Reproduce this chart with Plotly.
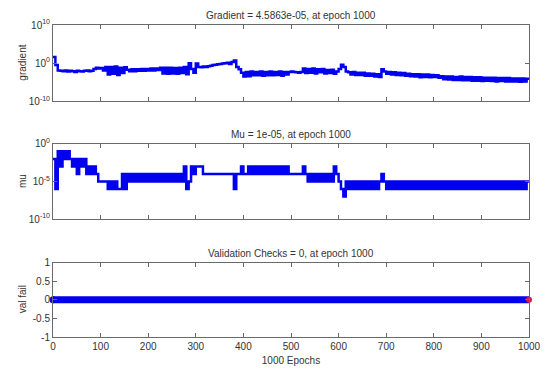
import plotly.graph_objects as go

# ---- data ----
epochs = list(range(0, 1001, 5))

# log10(gradient), one value every 5 epochs (rows of 50 epochs)
gradient_log10 = [
    1.6, -0.5, -1.9, -2.0, -2.1, -1.9, -2.2, -2.0, -2.1, -2.3,
    -2.0, -2.1, -2.2, -2.0, -1.9, -2.1, -2.0, -1.5, -1.2, -1.4,
    -1.3, -1.9, -1.0, -3.0, -1.0, -2.8, -0.9, -3.1, -1.2, -2.6,
    -1.1, -1.7, -2.1, -1.6, -2.1, -1.6, -2.0, -1.5, -2.0, -1.5,
    -1.9, -1.4, -1.9, -1.4, -1.8, -1.2, -2.7, -1.2, -2.8, -1.2,
    -2.7, -1.3, -2.8, -1.2, -2.6, -1.0, -2.9, 0.0, -1.5, -2.5,
    -0.1, -1.0, -1.1, -0.9, -1.0, -0.8, -0.7, -0.5, -0.4, -0.3,
    -0.2, -0.1, 0.0, 0.1, -0.2, 0.3, 0.7, -1.0, -1.6, -2.5,
    -3.5, -2.3, -3.4, -2.2, -3.2, -2.3, -3.2, -2.2, -3.3, -2.3,
    -3.2, -2.2, -3.2, -2.3, -3.1, -2.2, -3.3, -2.3, -3.0, -2.3,
    -2.2, -2.3, -2.4, -2.5, -2.3, -1.4, -2.6, -1.5, -2.5, -1.4,
    -2.7, -1.6, -2.4, -1.5, -2.7, -1.8, -2.6, -1.7, -2.8, -2.2,
    -1.5, -0.4, -1.0, -2.2, -2.4, -3.0, -2.3, -3.1, -2.5, -3.1,
    -2.5, -3.3, -2.7, -3.3, -2.8, -3.5, -2.9, -3.6, -1.6, -2.2,
    -2.8, -2.3, -3.0, -2.4, -3.1, -2.5, -3.2, -2.6, -3.3, -2.8,
    -3.4, -2.9, -3.5, -2.9, -3.7, -3.0, -3.6, -3.0, -3.7, -3.1,
    -3.6, -3.2, -3.8, -3.4, -4.2, -3.5, -4.3, -3.5, -4.4, -3.6,
    -4.4, -3.5, -4.5, -3.6, -4.5, -3.6, -4.6, -3.7, -4.6, -3.7,
    -4.7, -3.8, -4.6, -3.8, -4.7, -3.8, -4.8, -3.9, -4.7, -3.9,
    -4.8, -3.9, -4.8, -4.0, -4.8, -4.0, -4.9, -4.0, -4.8, -4.1,
    -4.34,
]

# log10(mu), one value every 5 epochs (rows of 50 epochs)
mu_log10 = [
    -2, -6, -1, -3, -1, -2, -1, -2, -3, -2,
    -4, -2, -3, -2, -4, -3, -4, -3, -4, -5,
    -5, -5, -5, -6, -5, -6, -5, -6, -6, -4,
    -6, -4, -5, -4, -5, -4, -5, -4, -5, -4,
    -5, -4, -5, -4, -5, -4, -5, -4, -5, -4,
    -5, -4, -5, -4, -5, -3, -6, -5, -3, -4,
    -3, -3, -3, -4, -4, -4, -4, -4, -4, -4,
    -4, -4, -4, -4, -4, -4, -6, -4, -4, -3,
    -4, -4, -3, -4, -3, -4, -3, -4, -3, -4,
    -3, -4, -3, -4, -3, -4, -3, -4, -3, -4,
    -4, -4, -4, -4, -4, -3, -4, -5, -4, -5,
    -4, -5, -4, -5, -4, -5, -4, -5, -3, -4,
    -5, -6, -7, -5, -6, -5, -6, -5, -6, -5,
    -6, -5, -6, -5, -6, -5, -6, -5, -4, -5,
    -6, -5, -6, -5, -6, -5, -6, -5, -6, -5,
    -6, -5, -6, -5, -6, -5, -6, -5, -6, -5,
    -6, -5, -6, -5, -6, -5, -6, -5, -6, -5,
    -6, -5, -6, -5, -6, -5, -6, -5, -6, -5,
    -6, -5, -6, -5, -6, -5, -6, -5, -6, -5,
    -6, -5, -6, -5, -6, -5, -6, -5, -6, -5,
    -5,
]

val_fail = [0] * len(epochs)
final_epoch = [1000]
final_val = [0]

titles = [
    "Gradient = 4.5863e-05, at epoch 1000",
    "Mu = 1e-05, at epoch 1000",
    "Validation Checks = 0, at epoch 1000",
]
ylabels = ["gradient", "mu", "val fail"]
x_ticks = [0, 100, 200, 300, 400, 500, 600, 700, 800, 900, 1000]

# ---- styling ----
W, H = 553, 376
ML, MR, MT, MB = 53, 16, 25, 28
PH = H - MT - MB
BLUE = "#0000ee"
AXC = "#6a6a6a"
TXT = "#333333"
FONT = "Liberation Sans, Arial, sans-serif"

def dom(top_px, bot_px):
    return [(H - MB - bot_px) / PH, (H - MB - top_px) / PH]

d1 = dom(25, 104)
d2 = dom(148, 226)
d3 = dom(271, 348)

fig = go.Figure()
fig.add_trace(go.Scatter(x=epochs, y=[10 ** v for v in gradient_log10], xaxis="x", yaxis="y",
                         mode="lines", line=dict(color=BLUE, width=2.5, shape="hv"), showlegend=False))
fig.add_trace(go.Scatter(x=epochs, y=[10 ** v for v in mu_log10], xaxis="x2", yaxis="y2",
                         mode="lines", line=dict(color=BLUE, width=2.5, shape="hv"), showlegend=False))
fig.add_trace(go.Scatter(x=epochs, y=val_fail, xaxis="x3", yaxis="y3",
                         mode="lines", line=dict(color=BLUE, width=7),
                         cliponaxis=False, showlegend=False))
fig.add_trace(go.Scatter(x=[epochs[0]], y=[val_fail[0]], xaxis="x3", yaxis="y3",
                         mode="markers", marker=dict(symbol="circle", size=7, color=BLUE,
                                                     line=dict(width=0)),
                         cliponaxis=False, showlegend=False))
fig.add_trace(go.Scatter(x=final_epoch, y=final_val, xaxis="x3", yaxis="y3",
                         mode="markers", marker=dict(symbol="circle", size=6, color="#e0104a",
                                                     line=dict(width=0)),
                         cliponaxis=False, showlegend=False))

common_x = dict(range=[0, 1000], tickvals=x_ticks, showline=True, linecolor=AXC, linewidth=1,
                mirror="ticks", ticks="inside", ticklen=4, tickcolor=AXC, showgrid=False,
                zeroline=False, tickfont=dict(family=FONT, size=10, color=TXT))
common_y = dict(showline=True, linecolor=AXC, linewidth=1, mirror="ticks", ticks="inside",
                ticklen=4, tickcolor=AXC, showgrid=False, zeroline=False,
                tickfont=dict(family=FONT, size=10, color=TXT))

fig.update_layout(
    width=W, height=H,
    margin=dict(l=ML, r=MR, t=MT, b=MB),
    paper_bgcolor="white", plot_bgcolor="white",
    font=dict(family=FONT, size=10, color=TXT),
    xaxis=dict(common_x, domain=[0, 1], anchor="y", showticklabels=False),
    xaxis2=dict(common_x, domain=[0, 1], anchor="y2", showticklabels=False),
    xaxis3=dict(common_x, domain=[0, 1], anchor="y3", showticklabels=True,
                title=dict(text="1000 Epochs", font=dict(family=FONT, size=10, color=TXT), standoff=5)),
    yaxis=dict(common_y, domain=d1, anchor="x", type="log", range=[-10, 10],
               tickvals=[1e-10, 1, 1e10],
               ticktext=["10<sup>-10</sup>", "10<sup>0</sup>", "10<sup>10</sup>"]),
    yaxis2=dict(common_y, domain=d2, anchor="x2", type="log", range=[-10, 0],
                tickvals=[1e-10, 1e-5, 1],
                ticktext=["10<sup>-10</sup>", "10<sup>-5</sup>", "10<sup>0</sup>"]),
    yaxis3=dict(common_y, domain=d3, anchor="x3", range=[-1, 1],
                tickvals=[-1, -0.5, 0, 0.5, 1],
                ticktext=["-1", "-0.5", "0", "0.5", "1"]),
)

label_x = (22 - ML) / (W - ML - MR)
for d, t, yl in zip([d1, d2, d3], titles, ylabels):
    fig.add_annotation(text=t, xref="paper", yref="paper", x=0.5, y=d[1],
                       xanchor="center", yanchor="bottom", yshift=2, showarrow=False,
                       font=dict(family=FONT, size=10, color=TXT))
    fig.add_annotation(text=yl, xref="paper", yref="paper", x=label_x, y=(d[0] + d[1]) / 2,
                       xanchor="center", yanchor="middle", textangle=-90, showarrow=False,
                       font=dict(family=FONT, size=10, color=TXT))

fig.write_html("out.html")
